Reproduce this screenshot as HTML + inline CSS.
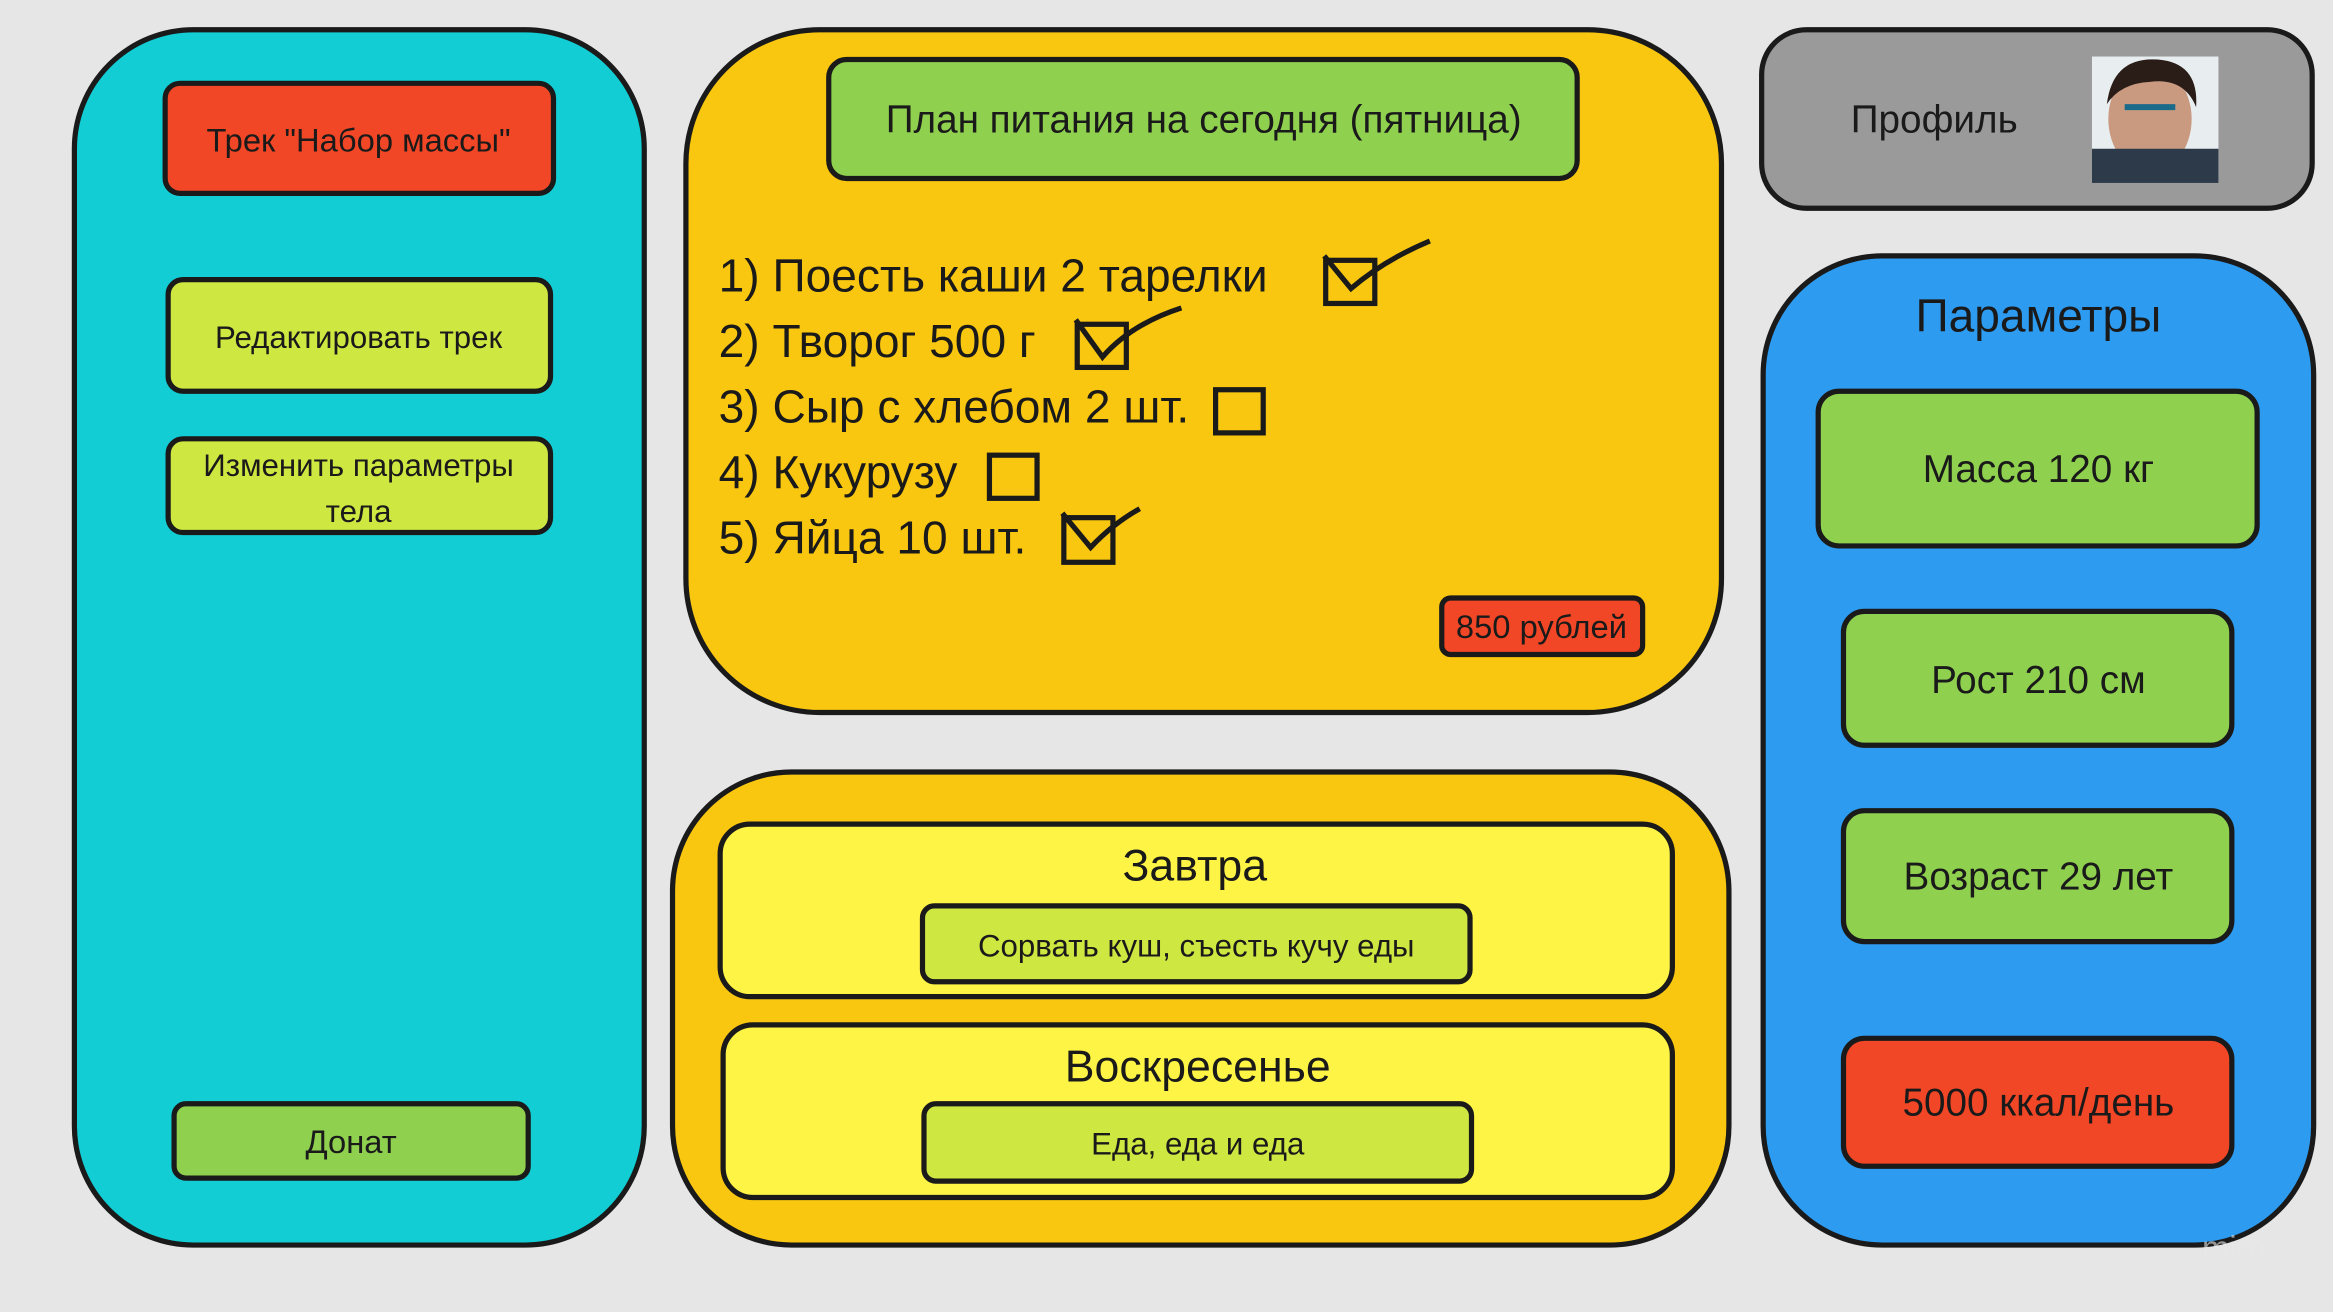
<!DOCTYPE html>
<html><head><meta charset="utf-8"><style>
html,body{margin:0;padding:0;background:#e6e6e6;overflow:hidden}
svg{display:block}
text{font-family:"Liberation Sans",sans-serif;fill:#1a1a1a}
</style></head><body>
<svg width="2333" height="1312" viewBox="0 0 1568 882" preserveAspectRatio="none" xmlns="http://www.w3.org/2000/svg">
<rect x="0" y="0" width="1568" height="882" fill="#e6e6e6"/>
<g stroke="#1a1a1a" stroke-width="3.5">
<!-- left panel -->
<rect x="50" y="20" width="383" height="817" rx="80" fill="#12cdd4"/>
<rect x="111" y="56" width="261" height="74" rx="10" fill="#f24726"/>
<rect x="113" y="188" width="257" height="75" rx="10" fill="#cee741"/>
<rect x="113" y="295" width="257" height="63" rx="10" fill="#cee741"/>
<rect x="117" y="742" width="238" height="50" rx="8" fill="#8fd14f"/>
<!-- top orange -->
<rect x="461" y="20" width="696" height="459" rx="90" fill="#fac710"/>
<rect x="557" y="40" width="503" height="80" rx="12" fill="#8fd14f"/>
<rect x="969" y="402" width="135" height="38" rx="6" fill="#f24726"/>
<rect x="891" y="175" width="33" height="29" fill="none"/>
<rect x="724" y="218" width="33" height="29" fill="none"/>
<rect x="817" y="262" width="32" height="29" fill="none"/>
<rect x="665" y="306" width="32" height="29" fill="none"/>
<rect x="715" y="348" width="33" height="30" fill="none"/>
<path d="M890 172 L908 194 Q930 175 961 162" fill="none"/>
<path d="M723 215 L741 240 Q760 218 794 207" fill="none"/>
<path d="M714 345 L733 368 Q748 352 766 342" fill="none"/>
<!-- bottom orange -->
<rect x="452" y="519" width="710" height="318" rx="80" fill="#fac710"/>
<rect x="484" y="554" width="640" height="116" rx="20" fill="#fef445"/>
<rect x="620" y="609" width="368" height="51" rx="8" fill="#cee741"/>
<rect x="486" y="689" width="638" height="116" rx="20" fill="#fef445"/>
<rect x="621" y="742" width="368" height="52" rx="8" fill="#cee741"/>
<!-- right -->
<rect x="1184" y="20" width="370" height="120" rx="30" fill="#9a9a9a"/>
<rect x="1185" y="172" width="370" height="665" rx="80" fill="#2d9bf0"/>
<rect x="1222" y="263" width="295" height="104" rx="14" fill="#8fd14f"/>
<rect x="1239" y="411" width="261" height="90" rx="14" fill="#8fd14f"/>
<rect x="1239" y="545" width="261" height="88" rx="14" fill="#8fd14f"/>
<rect x="1239" y="698" width="261" height="86" rx="14" fill="#f24726"/>
</g>
<!-- photo -->
<rect x="1406" y="38" width="85" height="85" fill="#e8eef0"/>
<ellipse cx="1445" cy="80" rx="28" ry="36" fill="#c99a80"/>
<path d="M1416 70 Q1420 38 1450 40 Q1478 42 1476 72 Q1468 52 1445 55 Q1425 56 1416 70Z" fill="#2a1d18"/>
<rect x="1406" y="100" width="85" height="23" fill="#2d3a4a"/>
<path d="M1428 72 h34" stroke="#1a6a8a" stroke-width="4"/>
<!-- text -->
<g text-anchor="middle">
<text x="241" y="102" font-size="22">Трек "Набор массы"</text>
<text x="241" y="234" font-size="21">Редактировать трек</text>
<text x="241" y="320" font-size="21">Изменить параметры</text>
<text x="241" y="351" font-size="21">тела</text>
<text x="236" y="775" font-size="22">Донат</text>
<text x="809" y="89" font-size="26">План питания на сегодня (пятница)</text>
<text x="1036" y="429" font-size="22">850 рублей</text>
<text x="803" y="592" font-size="30">Завтра</text>
<text x="804" y="643" font-size="21">Сорвать куш, съесть кучу еды</text>
<text x="805" y="727" font-size="30">Воскресенье</text>
<text x="805" y="776" font-size="21">Еда, еда и еда</text>
<text x="1300" y="89" font-size="26">Профиль</text>
<text x="1370" y="223" font-size="31">Параметры</text>
<text x="1370" y="324" font-size="26">Масса 120 кг</text>
<text x="1370" y="466" font-size="26">Рост 210 см</text>
<text x="1370" y="598" font-size="26">Возраст 29 лет</text>
<text x="1370" y="750" font-size="26">5000 ккал/день</text>
</g>
<g font-size="31">
<text x="483" y="196">1) Поесть каши 2 тарелки</text>
<text x="483" y="240">2) Творог 500 г</text>
<text x="483" y="284">3) Сыр с хлебом 2 шт.</text>
<text x="483" y="328">4) Кукурузу</text>
<text x="483" y="372">5) Яйца 10 шт.</text>
</g>
<text x="1480" y="846" font-size="22" fill="#f0f0f0" style="fill:#e8e8e8;opacity:.6">miro</text>
</svg>
</body></html>
